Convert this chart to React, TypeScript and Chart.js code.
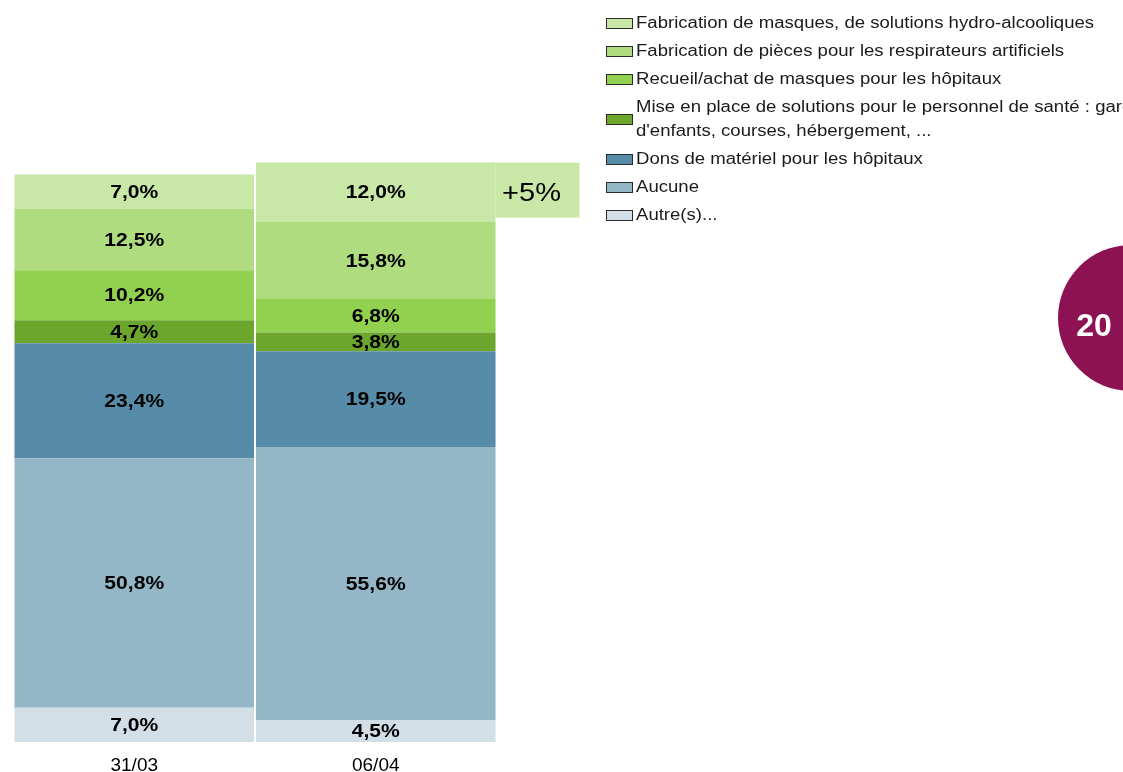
import React, { useEffect, useRef } from "react";
import { Chart, registerables } from "chart.js";

Chart.register(...registerables);

const categories = ["31/03", "06/04"];

// bottom-to-top stacking order
const seriesNames = [
  "Autre(s)...",
  "Aucune",
  "Dons de matériel pour les hôpitaux",
  "Mise en place de solutions pour le personnel de santé : garde\nd'enfants, courses, hébergement, ...",
  "Recueil/achat de masques pour les hôpitaux",
  "Fabrication de pièces pour les respirateurs artificiels",
  "Fabrication de masques, de solutions hydro-alcooliques",
];

const autreValues = [7.0, 4.5];
const aucuneValues = [50.8, 55.6];
const donsValues = [23.4, 19.5];
const miseEnPlaceValues = [4.7, 3.8];
const recueilValues = [10.2, 6.8];
const piecesValues = [12.5, 15.8];
const masquesValues = [7.0, 12.0];

const seriesValues = [
  autreValues,
  aucuneValues,
  donsValues,
  miseEnPlaceValues,
  recueilValues,
  piecesValues,
  masquesValues,
];

const seriesColors = [
  "#d3dfe6",
  "#93b7c7",
  "#568ca8",
  "#6ca62c",
  "#92d050",
  "#afdc7e",
  "#c9e7a7",
];

const PAGE_NUMBER = "20";
const FONT = "'Liberation Sans', Arial, sans-serif";
const STRETCH = 1.16;

const fmt = (v: number) => v.toFixed(1).replace(".", ",") + "%";

function stretchedText(ctx: any, text: string, x: number, y: number, s: number) {
  ctx.save();
  ctx.translate(x, y);
  ctx.scale(s, 1);
  ctx.fillText(text, 0, 0);
  ctx.restore();
}

export default function App() {
  const canvasRef = useRef<HTMLCanvasElement | null>(null);

  useEffect(() => {
    if (!canvasRef.current) return;

    const labelsPlugin = {
      id: "segmentLabels",
      afterDatasetsDraw(chart: any) {
        const ctx = chart.ctx;
        ctx.save();
        ctx.font = `bold 19px ${FONT}`;
        ctx.fillStyle = "#000";
        ctx.textAlign = "center";
        ctx.textBaseline = "middle";
        chart.data.datasets.forEach((ds: any, di: number) => {
          const meta = chart.getDatasetMeta(di);
          meta.data.forEach((el: any, i: number) => {
            const y = (el.y + el.base) / 2;
            stretchedText(ctx, fmt(ds.data[i]), el.x, y + 1, 1.11);
          });
        });
        ctx.restore();
      },
      afterDraw(chart: any) {
        const ctx = chart.ctx;
        // delta box next to the second bar
        const topIdx = chart.data.datasets.length - 1;
        const meta = chart.getDatasetMeta(topIdx);
        const el: any = meta.data[1];
        const right = el.x + el.width / 2;
        const top = el.y;
        const delta = masquesValues[1] - masquesValues[0];
        ctx.save();
        ctx.fillStyle = seriesColors[topIdx];
        ctx.fillRect(right, top, 84, 55);
        ctx.fillStyle = "#000";
        ctx.font = `25px ${FONT}`;
        ctx.textAlign = "center";
        ctx.textBaseline = "middle";
        stretchedText(ctx, (delta >= 0 ? "+" : "") + Math.round(delta) + "%", right + 36, top + 31, STRETCH);
        // page number badge
        ctx.beginPath();
        ctx.arc(1131, 318, 73, 0, Math.PI * 2);
        ctx.fillStyle = "#8c1254";
        ctx.fill();
        ctx.fillStyle = "#fff";
        ctx.font = `bold 32px ${FONT}`;
        ctx.fillText(PAGE_NUMBER, 1094, 327);
        ctx.restore();
      },
    };

    const chart = new Chart(canvasRef.current, {
      type: "bar",
      data: {
        labels: categories,
        datasets: seriesNames.map((name, i) => ({
          label: name,
          data: seriesValues[i],
          backgroundColor: seriesColors[i],
          borderWidth: 0,
          categoryPercentage: 1,
          barPercentage: 0.992,
        })),
      },
      options: {
        responsive: false,
        animation: false,
        maintainAspectRatio: false,
        layout: {
          padding: { left: 13.5, right: 626.5, top: 152.8, bottom: 0 },
        },
        plugins: {
          legend: { display: false },
          tooltip: { enabled: false },
        },
        scales: {
          x: {
            stacked: true,
            grid: { display: false, drawTicks: false },
            border: { display: false },
            ticks: {
              color: "#000",
              font: { family: FONT, size: 19 },
              padding: 12,
            },
            afterFit(scale: any) {
              scale.height = 30;
            },
          },
          y: {
            stacked: true,
            display: false,
            min: 0,
            max: 120,
          },
        },
      },
      plugins: [labelsPlugin],
    });

    return () => chart.destroy();
  }, []);

  const legendItems = seriesNames
    .map((name, i) => ({ name, color: seriesColors[i] }))
    .reverse();

  return (
    <div
      style={{
        position: "absolute",
        left: 0,
        top: 0,
        width: 1123,
        height: 772,
        overflow: "hidden",
        background: "#fff",
      }}
    >
      <canvas
        ref={canvasRef}
        width={1123}
        height={772}
        style={{ position: "absolute", left: 0, top: 0, width: 1123, height: 772 }}
      />
      <div
        style={{
          position: "absolute",
          left: 606,
          top: 11,
          fontFamily: FONT,
          fontSize: 16,
          color: "#1a1a1a",
        }}
      >
        {legendItems.map((it, i) => (
          <div
            key={i}
            style={{
              display: "flex",
              alignItems: "center",
              marginBottom: 4,
            }}
          >
            <div
              style={{
                width: 25,
                height: 9,
                border: "1.5px solid #2a2a2a",
                background: it.color,
                marginRight: 3,
                flex: "none",
              }}
            />
            <div
              style={{
                whiteSpace: "pre",
                lineHeight: "24px",
                transform: `scaleX(${STRETCH})`,
                transformOrigin: "left center",
              }}
            >
              {it.name}
            </div>
          </div>
        ))}
      </div>
    </div>
  );
}
